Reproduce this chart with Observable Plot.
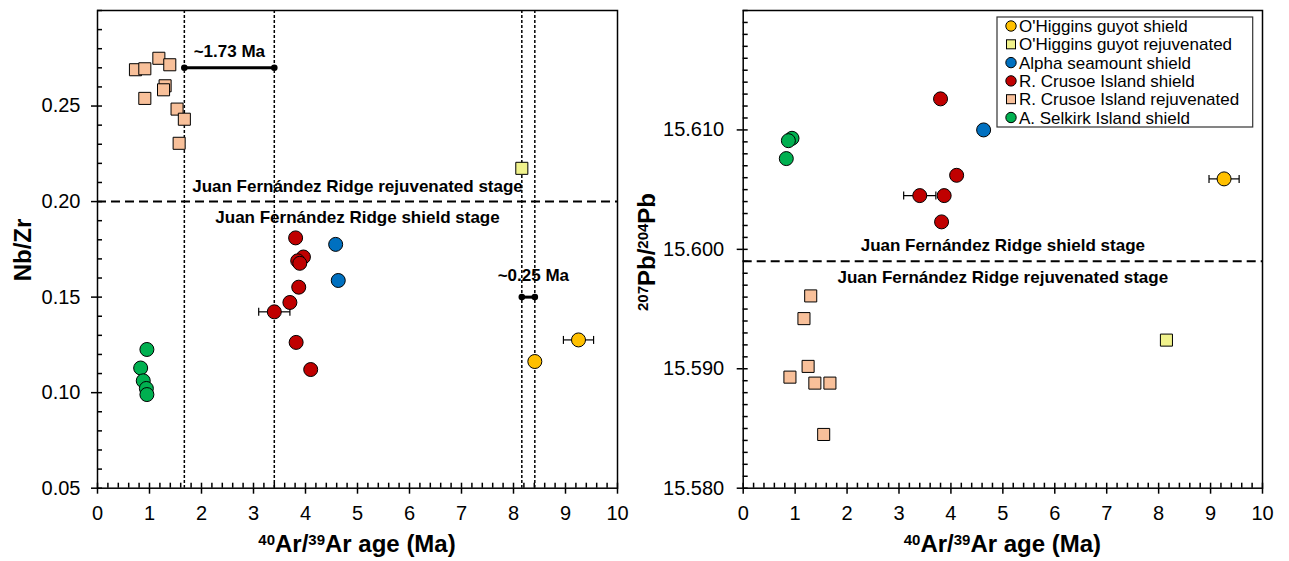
<!DOCTYPE html>
<html>
<head>
<meta charset="utf-8">
<script src="https://cdn.jsdelivr.net/npm/d3@7"></script>
<script src="https://cdn.jsdelivr.net/npm/@observablehq/plot@0.6"></script>
<style>
  body { margin: 0; background: #fff; }
  #wrap { display: flex; width: 1289px; height: 561px; }
  svg text { font-family: "Liberation Sans", Arial, sans-serif; }
</style>
</head>
<body>
<div id="wrap"></div>
<script>
// ---- Series (legend order) ----
const seriesNames = [
  "O'Higgins guyot shield",
  "O'Higgins guyot rejuvenated",
  "Alpha seamount shield",
  "R. Crusoe Island shield",
  "R. Crusoe Island rejuvenated",
  "A. Selkirk Island shield"
];
const seriesFill = ["#FFC000", "#F0F28C", "#0070C0", "#C00000", "#F8C09A", "#00B050"];
const seriesShape = ["circle", "square", "circle", "circle", "square", "circle"];

// ---- Nb/Zr vs 40Ar/39Ar age (Ma) ----
const ohShieldAgeA = [9.25, 8.41];
const ohShieldNbZr = [0.1276, 0.1163];
const ohShieldErrA = [0.29, 0];

const ohRejAgeA = [8.16];
const ohRejNbZr = [0.2174];

const alphaAgeA = [4.58, 4.63];
const alphaNbZr = [0.1776, 0.1587];

const rcShieldAgeA = [3.81, 3.96, 3.85, 3.89, 3.87, 3.70, 3.40, 3.82, 4.10];
const rcShieldNbZr = [0.181, 0.171, 0.169, 0.1677, 0.1552, 0.1472, 0.1423, 0.1263, 0.1121];
const rcShieldErrA = [0, 0, 0, 0, 0, 0, 0.30, 0, 0];

const rcRejAgeA = [0.73, 0.91, 1.18, 1.39, 1.30, 1.27, 0.91, 1.53, 1.67, 1.57];
const rcRejNbZr = [0.269, 0.2695, 0.275, 0.2716, 0.2606, 0.2585, 0.254, 0.2484, 0.2431, 0.2305];

const selkirkAgeA = [0.95, 0.83, 0.88, 0.94, 0.95];
const selkirkNbZr = [0.1226, 0.1129, 0.1062, 0.1022, 0.099];

// ---- 207Pb/204Pb vs 40Ar/39Ar age (Ma) ----
const ohShieldAgeB = [9.26];
const ohShieldPb = [15.6059];
const ohShieldErrB = [0.29];

const ohRejAgeB = [8.15];
const ohRejPb = [15.5924];

const alphaAgeB = [4.63];
const alphaPb = [15.6100];

const rcShieldAgeB = [3.80, 3.40, 3.87, 3.82, 4.11];
const rcShieldPb = [15.6126, 15.6045, 15.6045, 15.6023, 15.6062];
const rcShieldErrB = [0, 0.31, 0, 0, 0];

const rcRejAgeB = [1.30, 1.17, 1.25, 0.90, 1.38, 1.67, 1.55];
const rcRejPb = [15.5961, 15.5942, 15.5902, 15.5893, 15.5888, 15.5888, 15.5845];

const selkirkAgeB = [0.94, 0.87, 0.83];
const selkirkPb = [15.6093, 15.6091, 15.6076];

// ---- Annotations ----
const gapStart = [1.67, 8.16];
const gapEnd = [3.40, 8.41];
const gapNbZr = [0.27, 0.15];
const gapText = ["~1.73 Ma", "~0.25 Ma"];
const nbzrStageSplit = 0.20;
const pbStageSplit = 15.599;
const rejuvenatedStageText = "Juan Fernández Ridge rejuvenated stage";
const shieldStageText = "Juan Fernández Ridge shield stage";

// ---- Ticks ----
const ageTicks = [0, 1, 2, 3, 4, 5, 6, 7, 8, 9, 10];
const ageMinor = d3.range(0, 51).map(d => d / 5);
const nbzrTicks = [0.05, 0.10, 0.15, 0.20, 0.25];
const nbzrMinor = d3.range(5, 31).map(d => d / 100);
const pbTicks = [15.580, 15.590, 15.600, 15.610];
const pbMinor = d3.range(15580, 15621).map(d => d / 1000);

// ---- Helpers ----
const rows = (ages, vals, errs) => ages.map((a, i) => ({x: a, y: vals[i], e: errs ? errs[i] : 0}));

// short vertical stroke used as an error-bar cap
const capSymbol = {
  draw(context, size) {
    const h = Math.sqrt(size / Math.PI);
    context.moveTo(0, -h);
    context.lineTo(0, h);
  }
};

function seriesMarks(series) {
  const marks = [];
  series.forEach(s => {
    const errRows = s.filter(d => d.e > 0);
    if (errRows.length) {
      marks.push(Plot.link(errRows, {x1: d => d.x - d.e, x2: d => d.x + d.e, y1: "y", y2: "y", stroke: "black", strokeWidth: 1.2}));
      marks.push(Plot.dot(errRows, {x: d => d.x - d.e, y: "y", symbol: capSymbol, r: 4, stroke: "black", strokeWidth: 1.2}));
      marks.push(Plot.dot(errRows, {x: d => d.x + d.e, y: "y", symbol: capSymbol, r: 4, stroke: "black", strokeWidth: 1.2}));
    }
  });
  series.forEach((s, i) => {
    marks.push(Plot.dot(s, {
      x: "x", y: "y",
      symbol: seriesShape[i],
      r: seriesShape[i] === "square" ? 6.8 : 7,
      fill: seriesFill[i],
      stroke: "black",
      strokeWidth: 1
    }));
  });
  return marks;
}

function axisMarks(yTicks, yMinor, yFormat, yPad) {
  return [
    Plot.axisX(ageTicks, {tickSize: 6, tickPadding: 12, fontSize: 20, strokeWidth: 1.5, label: null}),
    Plot.axisX(ageMinor, {tickSize: 5, dy: -5, fill: "none", strokeWidth: 1.5, label: null}),
    Plot.axisY(yTicks, {tickSize: 6, tickPadding: yPad, fontSize: 20, strokeWidth: 1.5, tickFormat: yFormat, label: null}),
    Plot.axisY(yMinor, {tickSize: 5, dx: 5, fill: "none", strokeWidth: 1.5, label: null}),
    Plot.frame({stroke: "black", strokeWidth: 1.5})
  ];
}

const plotStyle = {fontFamily: "'Liberation Sans', Arial, sans-serif", background: "white", color: "black", overflow: "visible"};

// ---- Left panel: Nb/Zr ----
const nbzrSeries = [
  rows(ohShieldAgeA, ohShieldNbZr, ohShieldErrA),
  rows(ohRejAgeA, ohRejNbZr),
  rows(alphaAgeA, alphaNbZr),
  rows(rcShieldAgeA, rcShieldNbZr, rcShieldErrA),
  rows(rcRejAgeA, rcRejNbZr),
  rows(selkirkAgeA, selkirkNbZr)
];
const gapRows = gapStart.map((s, i) => ({x1: s, x2: gapEnd[i], y: gapNbZr[i], t: gapText[i]}));

const left = Plot.plot({
  width: 640, height: 561,
  marginLeft: 97, marginRight: 23, marginTop: 10, marginBottom: 73.3,
  x: {domain: [0, 10]},
  y: {domain: [0.05, 0.30]},
  style: plotStyle,
  marks: [
    Plot.ruleX([...gapStart, ...gapEnd], {stroke: "black", strokeWidth: 1.5, strokeDasharray: "3,2"}),
    Plot.ruleY([nbzrStageSplit], {stroke: "black", strokeWidth: 2, strokeDasharray: "9,5"}),
    Plot.text([rejuvenatedStageText], {x: 5, y: nbzrStageSplit, text: d => d, dy: -15, fontSize: 17, fontWeight: "bold"}),
    Plot.text([shieldStageText], {x: 5, y: nbzrStageSplit, text: d => d, dy: 16, fontSize: 17, fontWeight: "bold"}),
    Plot.link(gapRows, {x1: "x1", x2: "x2", y1: "y", y2: "y", stroke: "black", strokeWidth: 3}),
    Plot.dot(gapRows, {x: "x1", y: "y", r: 3.3, fill: "black"}),
    Plot.dot(gapRows, {x: "x2", y: "y", r: 3.3, fill: "black"}),
    Plot.text(gapRows.slice(0, 1), {x: d => (d.x1 + d.x2) / 2, y: "y", text: "t", dy: -16, fontSize: 17, fontWeight: "bold"}),
    Plot.text(gapRows.slice(1), {x: d => (d.x1 + d.x2) / 2, y: "y", text: "t", dx: 5, dy: -22, fontSize: 17, fontWeight: "bold"}),
    ...seriesMarks(nbzrSeries),
    ...axisMarks(nbzrTicks, nbzrMinor, d => d.toFixed(2), 11)
  ]
});

// ---- Right panel: 207Pb/204Pb ----
const pbSeries = [
  rows(ohShieldAgeB, ohShieldPb, ohShieldErrB),
  rows(ohRejAgeB, ohRejPb),
  rows(alphaAgeB, alphaPb),
  rows(rcShieldAgeB, rcShieldPb, rcShieldErrB),
  rows(rcRejAgeB, rcRejPb),
  rows(selkirkAgeB, selkirkPb)
];

const right = Plot.plot({
  width: 649, height: 561,
  marginLeft: 102.7, marginRight: 27, marginTop: 10, marginBottom: 73.3,
  x: {domain: [0, 10]},
  y: {domain: [15.580, 15.620]},
  style: plotStyle,
  marks: [
    Plot.ruleY([pbStageSplit], {stroke: "black", strokeWidth: 2, strokeDasharray: "9,5"}),
    Plot.text([shieldStageText], {x: 5, y: pbStageSplit, text: d => d, dy: -16, fontSize: 17, fontWeight: "bold"}),
    Plot.text([rejuvenatedStageText], {x: 5, y: pbStageSplit, text: d => d, dy: 16, fontSize: 17, fontWeight: "bold"}),
    ...seriesMarks(pbSeries),
    ...axisMarks(pbTicks, pbMinor, d => d.toFixed(3), 13)
  ]
});

const wrap = document.getElementById("wrap");
wrap.appendChild(left);
wrap.appendChild(right);

// ---- Axis titles with superscripts ----
function addTitle(svg, x, y, rotate, parts) {
  const t = d3.select(svg).append("text")
    .attr("transform", `translate(${x},${y})${rotate ? " rotate(-90)" : ""}`)
    .attr("text-anchor", "middle")
    .attr("font-weight", "bold")
    .attr("font-size", 24)
    .attr("fill", "black");
  parts.forEach(([s, sup], i) => {
    const prevSup = i > 0 && parts[i - 1][1];
    const sp = t.append("tspan").text(s);
    if (sup) sp.attr("font-size", 15).attr("dy", prevSup ? 0 : -7);
    else if (prevSup) sp.attr("dy", 7);
  });
}
const ageTitle = [["40", true], ["Ar/", false], ["39", true], ["Ar age (Ma)", false]];
addTitle(left, 357, 552, false, ageTitle);
addTitle(right, 362.4, 552, false, ageTitle);
addTitle(left, 31, 250, true, [["Nb/Zr", false]]);
addTitle(right, 15, 252, true, [["207", true], ["Pb/", false], ["204", true], ["Pb", false]]);

// ---- Legend ----
const lg = d3.select(right).append("g").attr("text-anchor", "start");
lg.append("rect").attr("x", 357).attr("y", 17).attr("width", 255.7).attr("height", 110)
  .attr("fill", "white").attr("stroke", "#333").attr("stroke-width", 1.2);
seriesNames.forEach((name, i) => {
  const cy = 26 + i * 18.3;
  if (seriesShape[i] === "circle") {
    lg.append("circle").attr("cx", 371).attr("cy", cy).attr("r", 5.2)
      .attr("fill", seriesFill[i]).attr("stroke", "black").attr("stroke-width", 1);
  } else {
    lg.append("rect").attr("x", 366.5).attr("y", cy - 4.5).attr("width", 9).attr("height", 9)
      .attr("fill", seriesFill[i]).attr("stroke", "black").attr("stroke-width", 1);
  }
  lg.append("text").attr("x", 379).attr("y", cy).attr("dy", "0.36em")
    .attr("text-anchor", "start")
    .attr("font-size", 17).attr("fill", "black").text(name);
});
</script>
</body>
</html>
